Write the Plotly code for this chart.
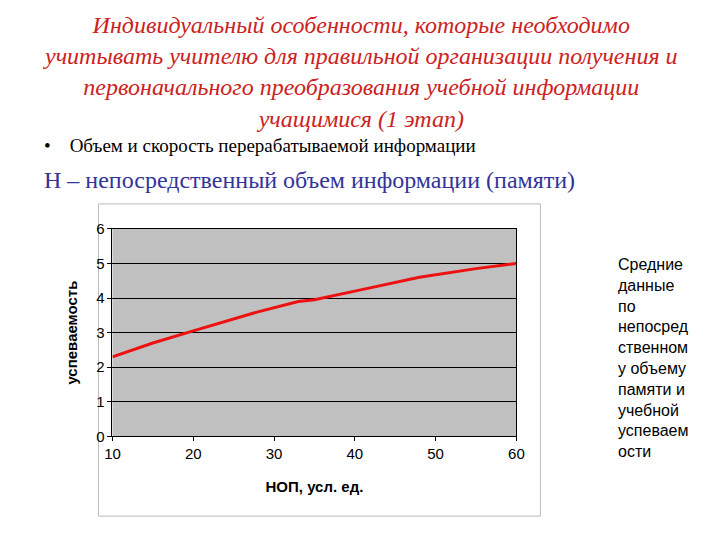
import plotly.graph_objects as go

x_vals = [10, 15, 20, 25, 28, 33, 35, 40, 45, 48, 55, 60]
y_vals = [2.3, 2.7, 3.05, 3.4, 3.6, 3.9, 3.95, 4.2, 4.45, 4.6, 4.85, 5.0]
x_ticks = [10, 20, 30, 40, 50, 60]
y_ticks = [0, 1, 2, 3, 4, 5, 6]

W, H = 720, 540
def px(x): return ((x - 15.5) / 0.978) / W
def py(y): return 1 - ((y - 14.6) / 0.971) / H

fig = go.Figure(go.Scatter(x=x_vals, y=y_vals, mode="lines",
                           line=dict(color="#ee1111", width=3)))

fig.update_layout(
    width=W, height=H, margin=dict(l=0, r=0, t=0, b=0),
    paper_bgcolor="white", plot_bgcolor="#c0c0c0", showlegend=False,
    xaxis=dict(domain=[px(112), px(516)], range=[10, 60], tickvals=x_ticks,
               showgrid=False, zeroline=False, showline=True, linecolor="black", mirror=True,
               ticks="outside", ticklen=4, tickcolor="black",
               tickfont=dict(family="Arial", size=15, color="black"),
               title=dict(text="<b>НОП, усл. ед.</b>", font=dict(family="Arial", size=15, color="black"), standoff=20)),
    yaxis=dict(domain=[py(435), py(227)], range=[0, 6], tickvals=y_ticks,
               showgrid=True, gridcolor="black", gridwidth=1, zeroline=False,
               showline=True, linecolor="black", mirror=True,
               ticks="outside", ticklen=4, tickcolor="black",
               tickfont=dict(family="Arial", size=15, color="black"),
               title=dict(text="<b>успеваемость</b>", font=dict(family="Arial", size=15, color="black"), standoff=14)),
)

fig.add_shape(type="rect", xref="paper", yref="paper",
              x0=px(98), x1=px(540), y0=py(515), y1=py(202),
              line=dict(color="#bbbbbb", width=1), layer="below")

title = ("Индивидуальный особенности, которые необходимо<br>"
         "учитывать учителю для правильной организации получения и<br>"
         "первоначального преобразования учебной информации<br>"
         "учащимися (1 этап)")
fig.add_annotation(text="<i>" + title + "</i>", xref="paper", yref="paper", x=px(360), y=py(8),
                   xanchor="center", yanchor="top", showarrow=False, align="center",
                   font=dict(family="Liberation Serif", size=24, color="#cc2222"))
fig.add_annotation(text="•    Объем и скорость перерабатываемой информации",
                   xref="paper", yref="paper", x=px(42), y=py(143), xanchor="left",
                   yanchor="middle", showarrow=False,
                   font=dict(family="Liberation Serif", size=19, color="black"))
fig.add_annotation(text="Н – непосредственный объем информации (памяти)",
                   xref="paper", yref="paper", x=px(42), y=py(178), xanchor="left",
                   yanchor="middle", showarrow=False,
                   font=dict(family="Liberation Serif", size=24, color="#333399"))
side = "Средние<br>данные<br>по<br>непосред<br>ственном<br>у объему<br>памяти и<br>учебной<br>успеваем<br>ости"
fig.add_annotation(text=side, xref="paper", yref="paper", x=px(616), y=py(252),
                   xanchor="left", yanchor="top", showarrow=False, align="left",
                   font=dict(family="Liberation Sans", size=16, color="black"))

fig.write_html("out.html")
